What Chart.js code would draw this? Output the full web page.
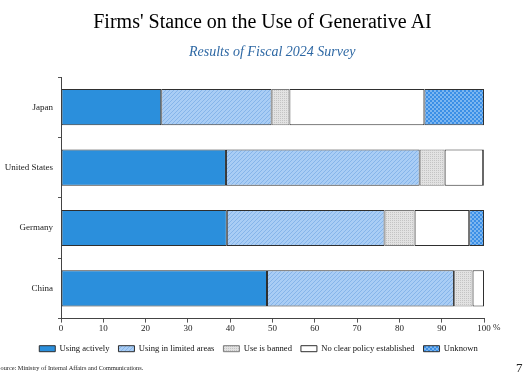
<!DOCTYPE html>
<html>
<head>
<meta charset="utf-8">
<script src="https://cdn.jsdelivr.net/npm/chart.js@4/dist/chart.umd.min.js"></script>
<style>
  body { margin:0; background:#fff; font-family:"Liberation Serif", serif; }
  #wrap { position:relative; width:525px; height:383px; overflow:hidden; }
  #box { position:absolute; left:0; top:0; width:525px; height:383px; }
  .txt { position:absolute; white-space:nowrap; }
  #title { left:0; width:525px; top:10px; text-align:center; font-size:20px; color:#000; }
  #sub { left:189px; top:44px; font-size:14px; font-style:italic; color:#2e68a4; }
  #pct { left:493px; top:322px; font-size:9px; color:#222; }
  #src { left:-3px; top:364px; font-size:6.3px; color:#222; }
  #page { left:516px; top:360px; font-size:13px; color:#222; }
</style>
</head>
<body>
<div id="wrap">
  <div id="box"><canvas id="chart"></canvas></div>
  <div class="txt" id="title">Firms' Stance on the Use of Generative AI</div>
  <div class="txt" id="sub">Results of Fiscal 2024 Survey</div>
  <div class="txt" id="pct">%</div>
  <div class="txt" id="src">Source: Ministry of Internal Affairs and Communications.</div>
  <div class="txt" id="page">7</div>
</div>
<script>
const countries   = ['Japan', 'United States', 'Germany', 'China'];
const activeVals  = [23.7, 39.0, 39.2, 48.7];
const limitedVals = [26.1, 45.8, 37.3, 44.2];
const bannedVals  = [4.2, 5.9, 7.1, 4.4];
const noPolicy    = [31.9, 9.1, 12.9, 2.7];
const unknownVals = [14.1, 0.2, 3.5, 0];
const xTicks      = [0, 10, 20, 30, 40, 50, 60, 70, 80, 90, 100];

const serif = '"Liberation Serif", serif';

function makePattern(size, draw) {
  const c = document.createElement('canvas');
  c.width = size; c.height = size;
  const g = c.getContext('2d');
  draw(g, size);
  return document.getElementById('chart').getContext('2d').createPattern(c, 'repeat');
}

const hatchBlue = makePattern(4, (g, s) => {
  g.fillStyle = '#a9cdf5'; g.fillRect(0,0,s,s);
  g.fillStyle = '#86b5ea';
  for (let i = 0; i < s; i++) g.fillRect(i, s-1-i, 1, 1);
});
const dotGrey = makePattern(2, (g, s) => {
  g.fillStyle = '#e2e2e2'; g.fillRect(0,0,s,s);
  g.fillStyle = '#c4c4c4'; g.fillRect(0,0,1,1);
});
const checkBlue = makePattern(4, (g, s) => {
  g.fillStyle = '#3b8fe6'; g.fillRect(0,0,s,s);
  g.fillStyle = '#7cb6f0'; g.fillRect(0,0,2,2); g.fillRect(2,2,2,2);
});

const seg = (label, data, bg, border) => ({
  label, data, backgroundColor: bg, borderColor: border, borderWidth: 1,
  borderSkipped: false, barPercentage: 0.6, categoryPercentage: 1
});

new Chart(document.getElementById('chart'), {
  type: 'bar',
  data: {
    labels: countries,
    datasets: [
      seg('Using actively', activeVals, '#2b8fdc', '#2f2f2f'),
      seg('Using in limited areas', limitedVals, hatchBlue, '#2f2f2f'),
      seg('Use is banned', bannedVals, dotGrey, '#7a7a7a'),
      seg('No clear policy established', noPolicy, '#ffffff', '#2f2f2f'),
      seg('Unknown', unknownVals, checkBlue, '#2f2f2f')
    ]
  },
  options: {
    indexAxis: 'y',
    responsive: true,
    maintainAspectRatio: false,
    animation: false,
    layout: { padding: { top: 77, left: 0, right: 8, bottom: 20 } },
    plugins: {
      tooltip: { enabled: false },
      legend: {
        position: 'bottom',
        labels: { color:'#111', font:{ family: serif, size: 8.6 }, boxWidth: 16, boxHeight: 6, padding: 9 }
      }
    },
    scales: {
      x: {
        stacked: true, min: 0, max: 100,
        afterBuildTicks: s => { s.ticks = xTicks.map(v => ({ value: v })); },
        grid: { drawOnChartArea: false, tickLength: 4, color: '#555' },
        border: { color: '#444' },
        ticks: { color:'#222', font:{ family: serif, size: 9 }, padding: 1 }
      },
      y: {
        stacked: true,
        afterFit: s => { s.width = 61; },
        grid: { drawOnChartArea: false, tickLength: 3, color: '#555', offset: true },
        border: { color: '#444' },
        ticks: { color:'#222', font:{ family: serif, size: 9 }, padding: 5 }
      },
      spacer: {
        type: 'linear', axis: 'y', position: 'right',
        afterFit: s => { s.width = 33; },
        grid: { display: false }, border: { display: false }, ticks: { display: false }
      }
    }
  }
});
</script>
</body>
</html>
